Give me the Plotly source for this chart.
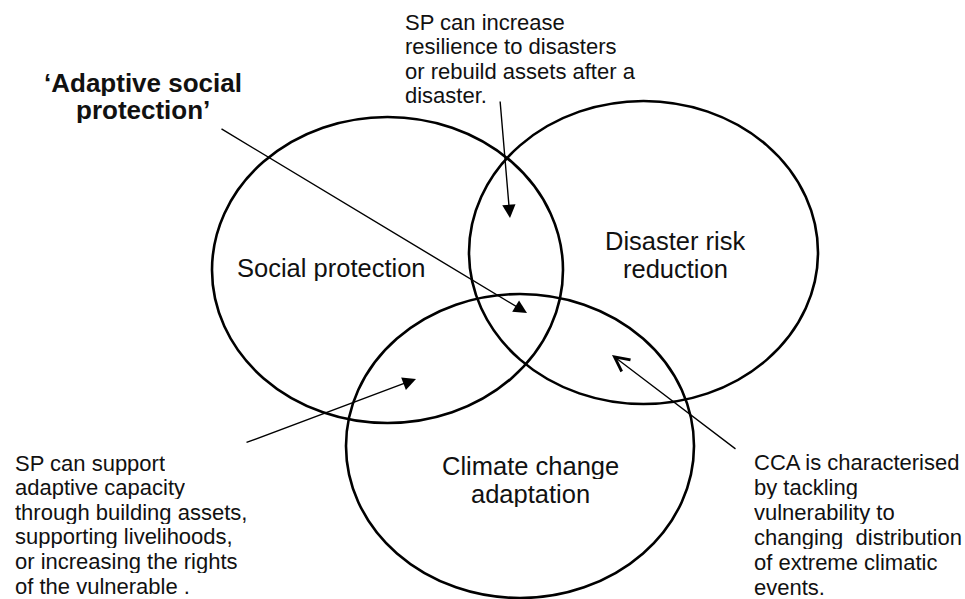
"""
Venn diagram: social protection, disaster risk reduction and climate change
adaptation, with explanatory call-outs (pixel coordinate frame, y downward).
"""

import plotly.graph_objects as go

W, H = 965, 599

# three overlapping sets: name lines, centre, half-width, half-height
SET_LABELS = [["Social protection"],
              ["Disaster risk", "reduction"],
              ["Climate change", "adaptation"]]
SET_CX = [387.5, 643.5, 520.0]
SET_CY = [270.0, 252.5, 446.0]
SET_RX = [175.5, 174.5, 174.0]
SET_RY = [153.0, 151.5, 152.0]
LABEL_X = [331, 675, 530]
LABEL_Y = [267, 240, 465]

TITLE_LINES = ["\u2018Adaptive social", "protection\u2019"]

NOTE_TOP = ["SP can increase", "resilience to disasters",
            "or rebuild assets after a", "disaster."]
NOTE_LEFT = ["SP can support", "adaptive capacity",
             "through building assets,", "supporting livelihoods,",
             "or increasing the rights", "of the vulnerable ."]
NOTE_RIGHT = ["CCA is characterised", "by tackling", "vulnerability to",
              "changing  distribution", "of extreme climatic", "events."]

# arrows: (tail x, tail y, head x, head y, head style)
ARROWS = [
    (220, 128, 527, 313, "filled"),
    (500, 100, 510, 218, "filled"),
    (245, 443, 416, 379, "filled"),
    (737, 450, 612, 355, "open"),
]

_FONT = "Liberation Sans, Arial, sans-serif"
_INK = "#111111"

fig = go.Figure()

# invisible trace so the axes exist
fig.add_trace(go.Scatter(x=[0, W], y=[0, H], mode="markers",
                         marker=dict(opacity=0), hoverinfo="skip",
                         showlegend=False))

for cx, cy, rx, ry in zip(SET_CX, SET_CY, SET_RX, SET_RY):
    fig.add_shape(type="circle", xref="x", yref="y",
                  x0=cx - rx, x1=cx + rx, y0=cy - ry, y1=cy + ry,
                  line=dict(color="black", width=2.6))


def _lines(lines, x, y0, step, size, anchor="left", bold=False):
    for i, txt in enumerate(lines):
        fig.add_annotation(
            x=x, y=y0 + i * step, xref="x", yref="y",
            text=f"<b>{txt}</b>" if bold else txt,
            showarrow=False, xanchor=anchor, yanchor="middle",
            height=int(step) - 1,
            font=dict(family=_FONT, size=size, color=_INK),
        )


for lines, lx, ly in zip(SET_LABELS, LABEL_X, LABEL_Y):
    _lines(lines, lx, ly, 28, 25.5, anchor="center")

_lines(TITLE_LINES, 143, 83, 27, 26, anchor="center", bold=True)
_lines(NOTE_TOP, 403, 22, 24.6, 22)
_lines(NOTE_LEFT, 13, 463, 24.6, 22)
_lines(NOTE_RIGHT, 752, 462, 25, 22)

for x0, y0, x1, y1, style in ARROWS:
    filled = style == "filled"
    fig.add_annotation(
        x=x1, y=y1, ax=x0, ay=y0,
        xref="x", yref="y", axref="x", ayref="y",
        text="", showarrow=True,
        arrowhead=2 if filled else 5,
        arrowsize=1.9 if filled else 2.2,
        arrowwidth=1.4 if filled else 1.3,
        arrowcolor="black",
    )

fig.update_layout(
    width=W, height=H,
    margin=dict(l=0, r=0, t=0, b=0),
    plot_bgcolor="white", paper_bgcolor="white",
    xaxis=dict(range=[0, W], visible=False, fixedrange=True),
    yaxis=dict(range=[H, 0], visible=False, fixedrange=True),
    showlegend=False,
)

fig.write_html(
    "out.html",
    config={"displayModeBar": False},
    post_script="document.body.style.margin='0';"
                "document.body.style.overflow='hidden';",
)
